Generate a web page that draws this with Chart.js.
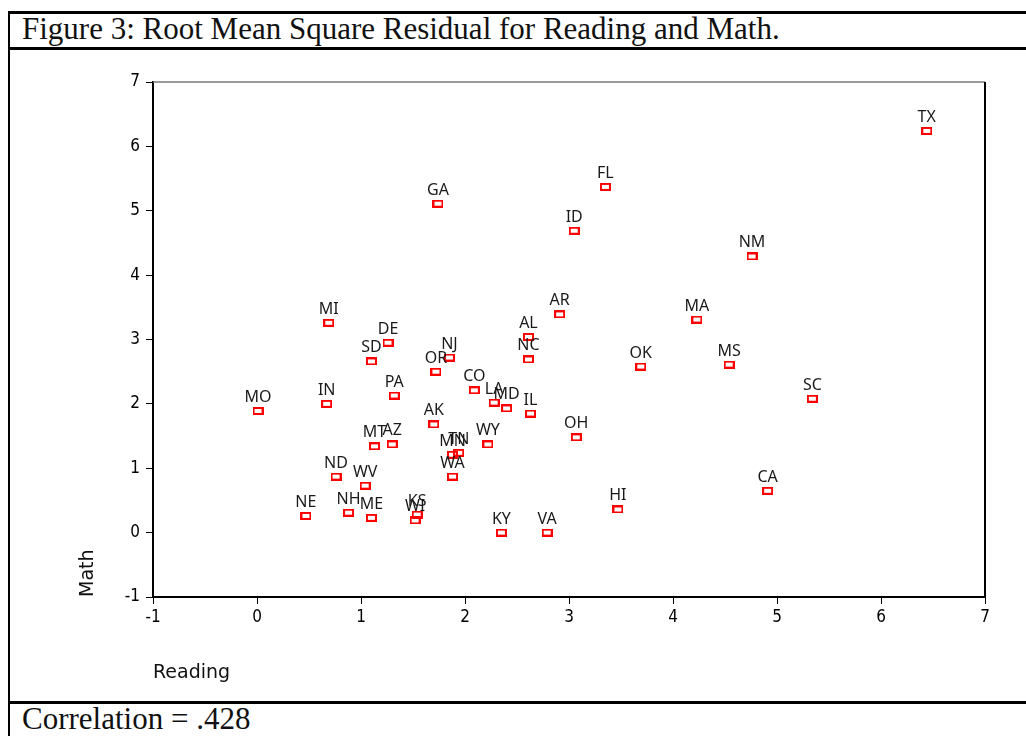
<!DOCTYPE html>
<html>
<head>
<meta charset="utf-8">
<script src="https://cdn.jsdelivr.net/npm/chart.js@4/dist/chart.umd.min.js"></script>
<style>
  html, body { margin: 0; padding: 0; background: #fff; }
  #page { position: relative; width: 1026px; height: 736px; overflow: hidden; }
  .hline { position: absolute; left: 8px; width: 1030px; height: 3px; background: #000; }
  .vline { position: absolute; left: 8px; top: 11px; width: 2px; height: 740px; background: #000; }
  .caption { position: absolute; left: 22px; font-family: "Liberation Serif", serif; font-size: 31px; color: #111; white-space: nowrap; }
  #wrap { position: absolute; left: 10px; top: 50px; width: 1016px; height: 651px; }
</style>
</head>
<body>
<div id="page">
  <div class="vline"></div>
  <div class="hline" style="top:11px"></div>
  <div class="caption" style="top:11px">Figure 3: Root Mean Square Residual for Reading and Math.</div>
  <div class="hline" style="top:47px"></div>
  <div id="wrap"><canvas id="chart"></canvas></div>
  <div class="hline" style="top:701px"></div>
  <div class="caption" style="top:701px">Correlation = .428</div>
</div>
<script>
// state residuals
const states  = ['TX','FL','GA','ID','NM','MI','DE','SD','NJ','OR','AR','AL','NC','MA','OK',
                 'MS','SC','CO','LA','MD','IL','PA','IN','MO','AK','MT','AZ','MN','TN','WY',
                 'OH','WA','ND','WV','NE','NH','ME','KS','WI','KY','VA','HI','CA'];
const reading = [6.44, 3.35, 1.74, 3.05, 4.76, 0.69, 1.26, 1.10, 1.85, 1.72, 2.91, 2.61, 2.61, 4.23, 3.69,
                 4.54, 5.34, 2.09, 2.28, 2.40, 2.63, 1.32, 0.67, 0.01, 1.70, 1.13, 1.30, 1.88, 1.94, 2.22,
                 3.07, 1.88, 0.76, 1.04, 0.47, 0.88, 1.10, 1.54, 1.52, 2.35, 2.79, 3.47, 4.91];
const math    = [6.24, 5.37, 5.11, 4.69, 4.29, 3.26, 2.95, 2.66, 2.72, 2.50, 3.39, 3.04, 2.69, 3.31, 2.58,
                 2.61, 2.08, 2.21, 2.02, 1.93, 1.85, 2.13, 2.00, 1.89, 1.68, 1.34, 1.37, 1.21, 1.24, 1.37,
                 1.48, 0.87, 0.87, 0.73, 0.26, 0.31, 0.23, 0.28, 0.19, 0.00, 0.00, 0.36, 0.65];
const axisMin = -1, axisMax = 7;

// hollow red rectangle marker
const marker = document.createElement('canvas');
marker.width = 11; marker.height = 8;
(function () {
  const m = marker.getContext('2d');
  m.strokeStyle = '#ff0000';
  m.lineWidth = 2;
  m.strokeRect(1, 1, 9, 6);
})();

const pointLabels = {
  id: 'pointLabels',
  afterDatasetsDraw(chart) {
    const ctx = chart.ctx;
    const meta = chart.getDatasetMeta(0);
    ctx.save();
    ctx.font = '16px "Noto Sans", "DejaVu Sans", sans-serif';
    ctx.fillStyle = '#1a1a1a';
    ctx.textAlign = 'center';
    ctx.textBaseline = 'alphabetic';
    meta.data.forEach((pt, i) => ctx.fillText(states[i], pt.x, pt.y - 9));
    ctx.restore();
  }
};

const frame = {
  id: 'frame',
  afterDraw(chart) {
    const { ctx, chartArea: a } = chart;
    ctx.save();
    ctx.strokeStyle = '#777';
    ctx.lineWidth = 1.5;
    ctx.beginPath(); ctx.moveTo(a.left, a.top); ctx.lineTo(a.right, a.top); ctx.stroke();
    ctx.strokeStyle = '#000';
    ctx.lineWidth = 2;
    ctx.beginPath(); ctx.moveTo(a.right, a.top); ctx.lineTo(a.right, a.bottom); ctx.stroke();
    ctx.restore();
  }
};

const tickFont = { size: 17, family: '"Liberation Sans Narrow", "DejaVu Sans Condensed", sans-serif' };
const titleFont = { size: 19, family: '"DejaVu Sans", "Liberation Sans", sans-serif' };

new Chart(document.getElementById('chart'), {
  type: 'scatter',
  data: {
    datasets: [{
      data: reading.map((x, i) => ({ x, y: math[i] })),
      pointStyle: marker,
      pointRadius: 5,
    }]
  },
  options: {
    responsive: true,
    maintainAspectRatio: false,
    animation: false,
    events: [],
    layout: { padding: { top: 32, right: 41, left: 0, bottom: 0 } },
    plugins: { legend: { display: false }, tooltip: { enabled: false } },
    scales: {
      x: {
        type: 'linear',
        min: axisMin, max: axisMax,
        afterFit(s) { s.height = 104; },
        border: { color: '#000', width: 2 },
        grid: { drawOnChartArea: false, tickLength: 7, tickColor: '#000', tickWidth: 1 },
        ticks: { stepSize: 1, color: '#000', font: tickFont, padding: 3 },
        title: { display: true, text: 'Reading', align: 'start', color: '#111', font: titleFont, padding: { top: 0, bottom: 17 } },
      },
      y: {
        type: 'linear',
        min: axisMin, max: axisMax,
        afterFit(s) { s.width = 143; },
        border: { color: '#000', width: 2 },
        grid: { drawOnChartArea: false, tickLength: 7, tickColor: '#000', tickWidth: 1 },
        ticks: { stepSize: 1, color: '#000', font: tickFont, padding: 6 },
        title: { display: true, text: 'Math', align: 'start', color: '#111', font: titleFont, padding: { top: 67, bottom: 0 } },
      },
    },
  },
  plugins: [pointLabels, frame],
});
</script>
</body>
</html>
